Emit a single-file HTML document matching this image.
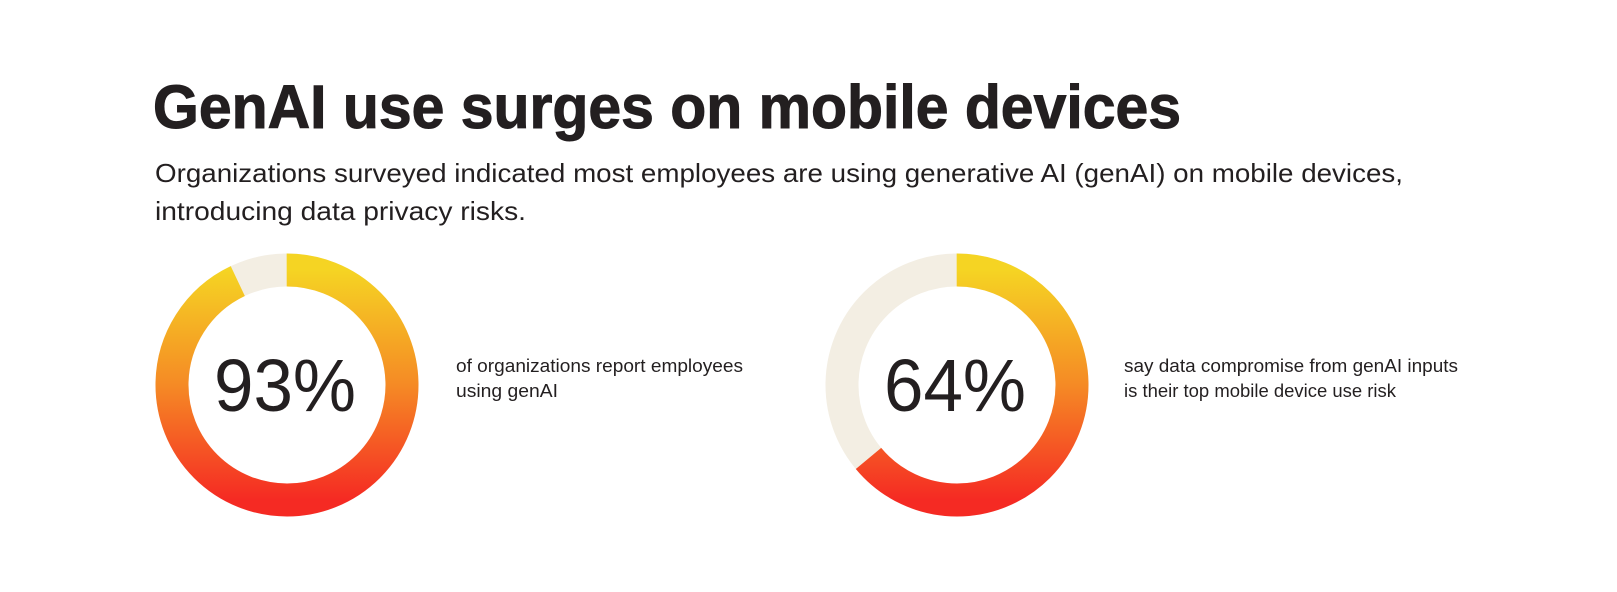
<!DOCTYPE html>
<html><head><meta charset="utf-8"><style>
html,body{margin:0;padding:0;background:#fff;}
svg{display:block;}
text{font-family:"Liberation Sans",sans-serif;fill:#231f20;}
</style></head><body>
<svg width="1617" height="592" viewBox="0 0 1617 592" xmlns="http://www.w3.org/2000/svg">
<defs>
<linearGradient id="g" x1="0" y1="0" x2="0" y2="1">
<stop offset="0" stop-color="#f5d423"/>
<stop offset="0.5" stop-color="#f58a25"/>
<stop offset="1" stop-color="#f52a23"/>
</linearGradient>
</defs>
<text x="153" y="128" font-size="61" font-weight="bold" textLength="1028" lengthAdjust="spacingAndGlyphs" stroke="#231f20" stroke-width="1">GenAI use surges on mobile devices</text>
<text x="155" y="182" font-size="26" textLength="1248" lengthAdjust="spacingAndGlyphs">Organizations surveyed indicated most employees are using generative AI (genAI) on mobile devices,</text>
<text x="155" y="220" font-size="26" textLength="371" lengthAdjust="spacingAndGlyphs">introducing data privacy risks.</text>

<!-- donut 1 -->
<circle cx="287" cy="385" r="115" fill="none" stroke="#f3eee3" stroke-width="33"/>
<circle cx="287" cy="385" r="115" fill="none" stroke="url(#g)" stroke-width="33" pathLength="100" stroke-dasharray="93 7" stroke-dashoffset="25"/>
<text x="214" y="411" font-size="74" textLength="142" lengthAdjust="spacingAndGlyphs">93%</text>
<text x="456" y="372" font-size="18" textLength="287" lengthAdjust="spacingAndGlyphs">of organizations report employees</text>
<text x="456" y="397" font-size="18" textLength="102" lengthAdjust="spacingAndGlyphs">using genAI</text>

<!-- donut 2 -->
<circle cx="957" cy="385" r="115" fill="none" stroke="#f3eee3" stroke-width="33"/>
<circle cx="957" cy="385" r="115" fill="none" stroke="url(#g)" stroke-width="33" pathLength="100" stroke-dasharray="64 36" stroke-dashoffset="25"/>
<text x="884" y="411" font-size="74" textLength="142" lengthAdjust="spacingAndGlyphs">64%</text>
<text x="1124" y="372" font-size="18" textLength="334" lengthAdjust="spacingAndGlyphs">say data compromise from genAI inputs</text>
<text x="1124" y="397" font-size="18" textLength="272" lengthAdjust="spacingAndGlyphs">is their top mobile device use risk</text>
</svg>
</body></html>
